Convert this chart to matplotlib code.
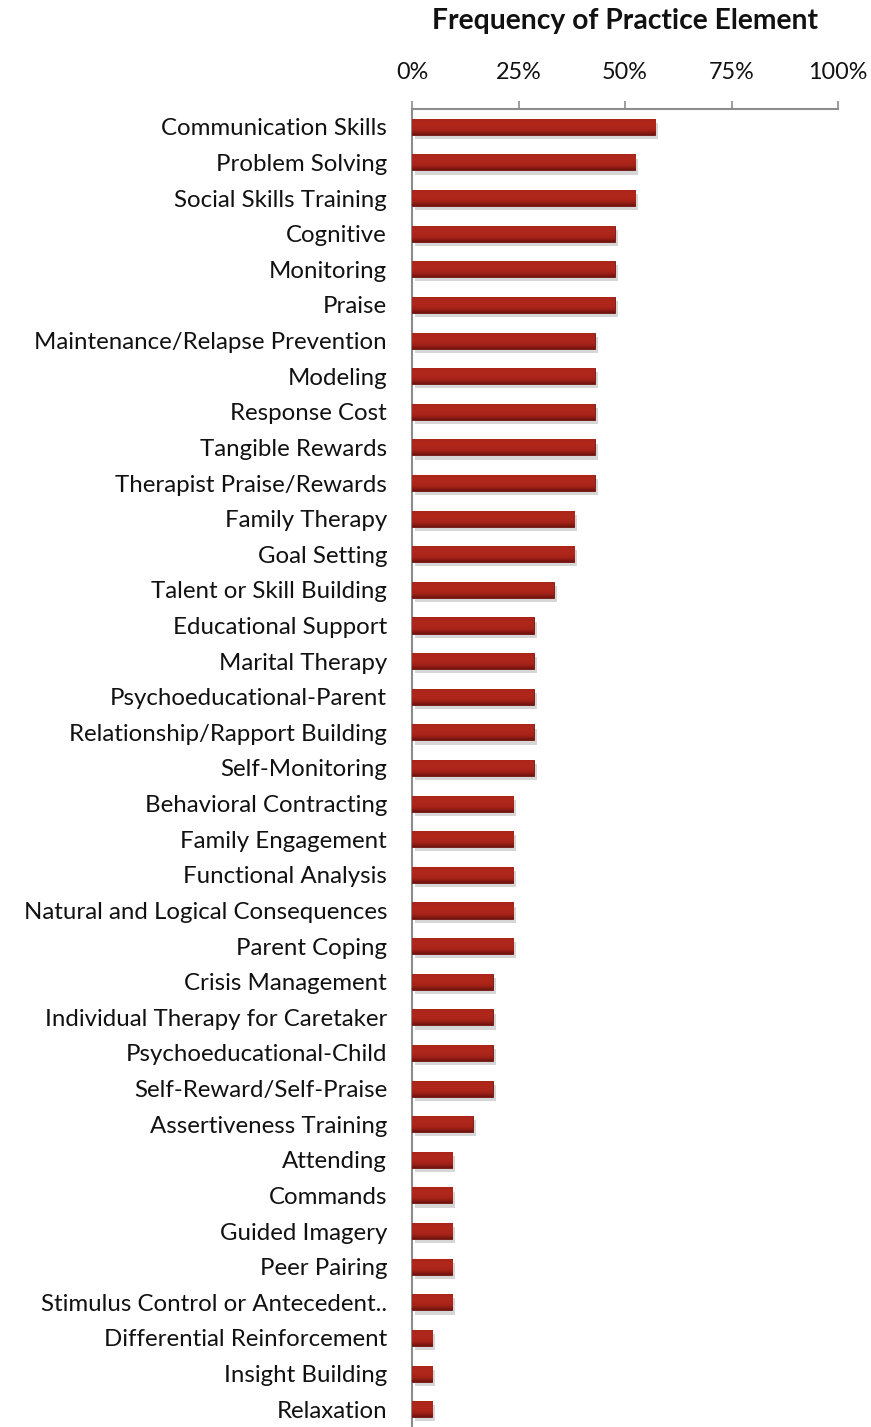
import numpy as np
import matplotlib
matplotlib.use("Agg")
import matplotlib.pyplot as plt
import matplotlib.patheffects as pe
from matplotlib.colors import LinearSegmentedColormap

categories = [
    "Communication Skills", "Problem Solving", "Social Skills Training", "Cognitive",
    "Monitoring", "Praise", "Maintenance/Relapse Prevention", "Modeling",
    "Response Cost", "Tangible Rewards", "Therapist Praise/Rewards", "Family Therapy",
    "Goal Setting", "Talent or Skill Building", "Educational Support", "Marital Therapy",
    "Psychoeducational-Parent", "Relationship/Rapport Building", "Self-Monitoring",
    "Behavioral Contracting", "Family Engagement", "Functional Analysis",
    "Natural and Logical Consequences", "Parent Coping", "Crisis Management",
    "Individual Therapy for Caretaker", "Psychoeducational-Child", "Self-Reward/Self-Praise",
    "Assertiveness Training", "Attending", "Commands", "Guided Imagery", "Peer Pairing",
    "Stimulus Control or Antecedent..", "Differential Reinforcement", "Insight Building",
    "Relaxation",
]
values = [
    57.1, 52.4, 52.4, 47.6, 47.6, 47.6, 42.9, 42.9, 42.9, 42.9, 42.9, 38.1, 38.1, 33.3,
    28.6, 28.6, 28.6, 28.6, 28.6, 23.8, 23.8, 23.8, 23.8, 23.8, 19.0, 19.0, 19.0, 19.0,
    14.3, 9.5, 9.5, 9.5, 9.5, 9.5, 4.8, 4.8, 4.8,
]
xticks = [0, 25, 50, 75, 100]
xticklabels = ["0%", "25%", "50%", "75%", "100%"]
title = "Frequency of Practice Element"

plt.rcParams['font.family'] = ['Lato', 'DejaVu Sans']

fig = plt.figure(figsize=(8.71, 14.27), dpi=100)
W, H = 871, 1427
ax = fig.add_axes([412 / W, 0.0, (838 - 412) / W, 1 - 109 / H])

y = np.arange(len(categories))
bars = ax.barh(y, values, height=0.45, color="#9c1d18", edgecolor="#6e1410",
               linewidth=0.6, zorder=3)

grad = np.linspace(0, 1, 64).reshape(-1, 1)
shade = 1 - 0.55 * (np.abs(grad - 0.35) * 1.6) ** 1.5
cmap = LinearSegmentedColormap.from_list("barshade", ["#5e100c", "#8a1a14", "#a92319", "#b0281c"])
for b in bars:
    x0, y0 = b.get_x(), b.get_y()
    w, h = b.get_width(), b.get_height()
    im = ax.imshow(shade, extent=(x0, x0 + w, y0 + h, y0), cmap=cmap, vmin=0.35, vmax=1.0,
                   aspect="auto", zorder=4, interpolation="bicubic")
    im.set_clip_path(b)
    b.set_path_effects([pe.SimplePatchShadow(offset=(2, -3), shadow_rgbFace="#000000", alpha=0.16),
                        pe.Normal()])

ax.set_xlim(0, 100)
ax.set_ylim(len(categories) - 0.5, -0.5)
ax.set_yticks(y)
ax.set_yticklabels(categories, fontsize=17.3, color="#111111")
ax.tick_params(axis="y", length=0, pad=18)

ax.xaxis.tick_top()
ax.set_xticks(xticks)
ax.set_xticklabels(xticklabels, fontsize=16.8, color="#111111")
ax.tick_params(axis="x", length=6, width=1.2, color="#8c8c8c", pad=13, direction="out")

for s in ["right", "bottom"]:
    ax.spines[s].set_visible(False)
for s in ["top", "left"]:
    ax.spines[s].set_color("#8c8c8c")
    ax.spines[s].set_linewidth(1.5)

fig.text((412 + 838) / 2 / W, 1 - 21 / H, title, ha="center", va="center",
         fontsize=20.3, fontweight="bold", color="#111111")

fig.savefig("out.png", dpi=100)
